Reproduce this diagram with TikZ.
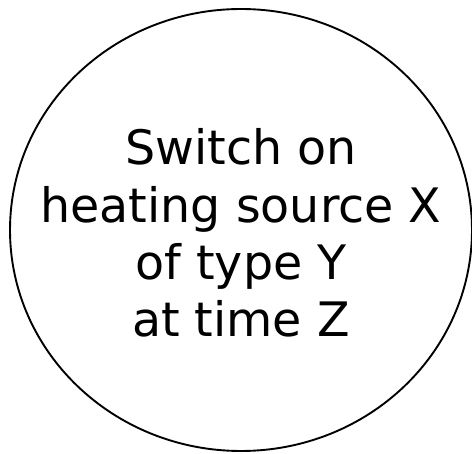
\documentclass[tikz,border=0pt]{standalone}
\usepackage{fontspec}
\setmainfont{DejaVu Sans}
\usepackage{xcolor,tikz}
\definecolor{actLine}{HTML}{000000}

\tikzset{
  actionText/.style={inner sep=0pt, align=center,
    font=\fontsize{47.5pt}{57.3pt}\selectfont},
  actionRim/.style={draw=actLine, line width=1.9pt}
}

\begin{document}
\begin{tikzpicture}[x=1pt,y=-1pt]

\def\picW{472}
\def\picH{454}
\def\rimX{231}
\def\rimY{221}

% --- page size ---
\useasboundingbox (0,0) rectangle (\picW,\picH);

% --- the action ---
\node[actionText] (switchOn) at (241,233)
  {Switch on\\heating source X\\of type Y\\at time Z};
\draw[actionRim] (241,230) ellipse [x radius=\rimX, y radius=\rimY];

\end{tikzpicture}
\end{document}
